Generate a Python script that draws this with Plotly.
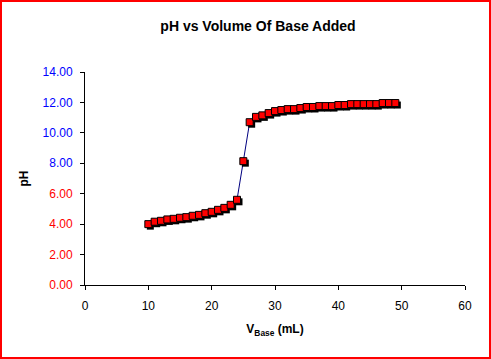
import plotly.graph_objects as go

volume_ml = list(range(10, 50))
ph = [4.00, 4.16, 4.22, 4.31, 4.35, 4.42, 4.46, 4.55, 4.61, 4.72,
      4.81, 4.94, 5.07, 5.27, 5.60, 8.14, 10.70, 11.05, 11.15, 11.30,
      11.43, 11.50, 11.56, 11.56, 11.63, 11.70, 11.70, 11.76, 11.76, 11.76,
      11.83, 11.83, 11.89, 11.89, 11.89, 11.89, 11.89, 11.96, 11.96, 11.96]

x_ticks = [0, 10, 20, 30, 40, 50, 60]
y_ticks = [0, 2, 4, 6, 8, 10, 12, 14]
y_tick_colors = ["red", "red", "red", "red", "blue", "blue", "blue", "blue"]

W, H = 491, 359
ML, MR, MT, MB = 85, 26, 72, 74
pw, ph_px = W - ML - MR, H - MT - MB
SHADOW = 2  # px offset of marker shadow
dx = SHADOW * 60 / pw
dy = SHADOW * 14 / ph_px

y_ticktext = [f'<span style="color:{c}">{v:.2f}</span>' for v, c in zip(y_ticks, y_tick_colors)]

fig = go.Figure()
# connecting line
fig.add_trace(go.Scatter(x=volume_ml, y=ph, mode="lines",
                         line=dict(color="#000080", width=1),
                         xaxis="x", yaxis="y", hoverinfo="skip", showlegend=False))
# marker shadow (on shifted overlay axes)
fig.add_trace(go.Scatter(x=volume_ml, y=ph, mode="markers",
                         marker=dict(symbol="square", size=7, color="black",
                                     line=dict(color="black", width=0)),
                         xaxis="x2", yaxis="y2", hoverinfo="skip", showlegend=False))
# markers
fig.add_trace(go.Scatter(x=volume_ml, y=ph, mode="markers",
                         marker=dict(symbol="square", size=7, color="#FF0000",
                                     line=dict(color="black", width=1)),
                         xaxis="x3", yaxis="y3", showlegend=False))

hidden = dict(visible=False, showgrid=False, zeroline=False)

fig.update_layout(
    width=W, height=H,
    margin=dict(l=ML, r=MR, t=MT, b=MB, autoexpand=False),
    paper_bgcolor="white", plot_bgcolor="white",
    font=dict(family="Liberation Sans, Arial, sans-serif", size=12, color="black"),
    title=dict(text="<b>pH vs Volume Of Base Added</b>", x=258 / W, xanchor="center",
               y=1 - 26 / H, yanchor="middle", font=dict(size=14, color="black")),
    xaxis=dict(range=[0, 60], tickvals=x_ticks, ticktext=[str(v) for v in x_ticks],
               showgrid=False, zeroline=False, showline=True, linecolor="black",
               linewidth=1, ticks="outside", ticklen=4, tickcolor="black",
               ticklabelstandoff=6,
               tickfont=dict(size=12, color="black"),
               title=dict(text="<b>V<sub>Base</sub> (mL)</b>", standoff=12,
                          font=dict(size=12, color="black"))),
    yaxis=dict(range=[0, 14], tickvals=y_ticks, ticktext=y_ticktext,
               showgrid=False, zeroline=False, showline=True, linecolor="black",
               linewidth=1, ticks="outside", ticklen=4, tickcolor="black",
               ticklabelstandoff=5,
               tickfont=dict(size=12),
               title=dict(text="<b>pH</b>", standoff=11,
                          font=dict(size=12, color="black"))),
    xaxis2=dict(range=[0 - dx, 60 - dx], overlaying="x", **hidden),
    yaxis2=dict(range=[0 + dy, 14 + dy], overlaying="y", **hidden),
    xaxis3=dict(range=[0, 60], overlaying="x", **hidden),
    yaxis3=dict(range=[0, 14], overlaying="y", **hidden),
    shapes=[dict(type="rect", xref="paper", yref="paper",
                 x0=(1 - ML) / pw, x1=1 + (MR - 1) / pw,
                 y0=-(MB - 1) / ph_px, y1=1 + (MT - 1) / ph_px,
                 line=dict(color="red", width=2), fillcolor="rgba(0,0,0,0)",
                 layer="above")],
)

fig.write_html("out.html", config={"displayModeBar": False},
               post_script="document.body.style.margin='0';document.body.style.padding='0';")
